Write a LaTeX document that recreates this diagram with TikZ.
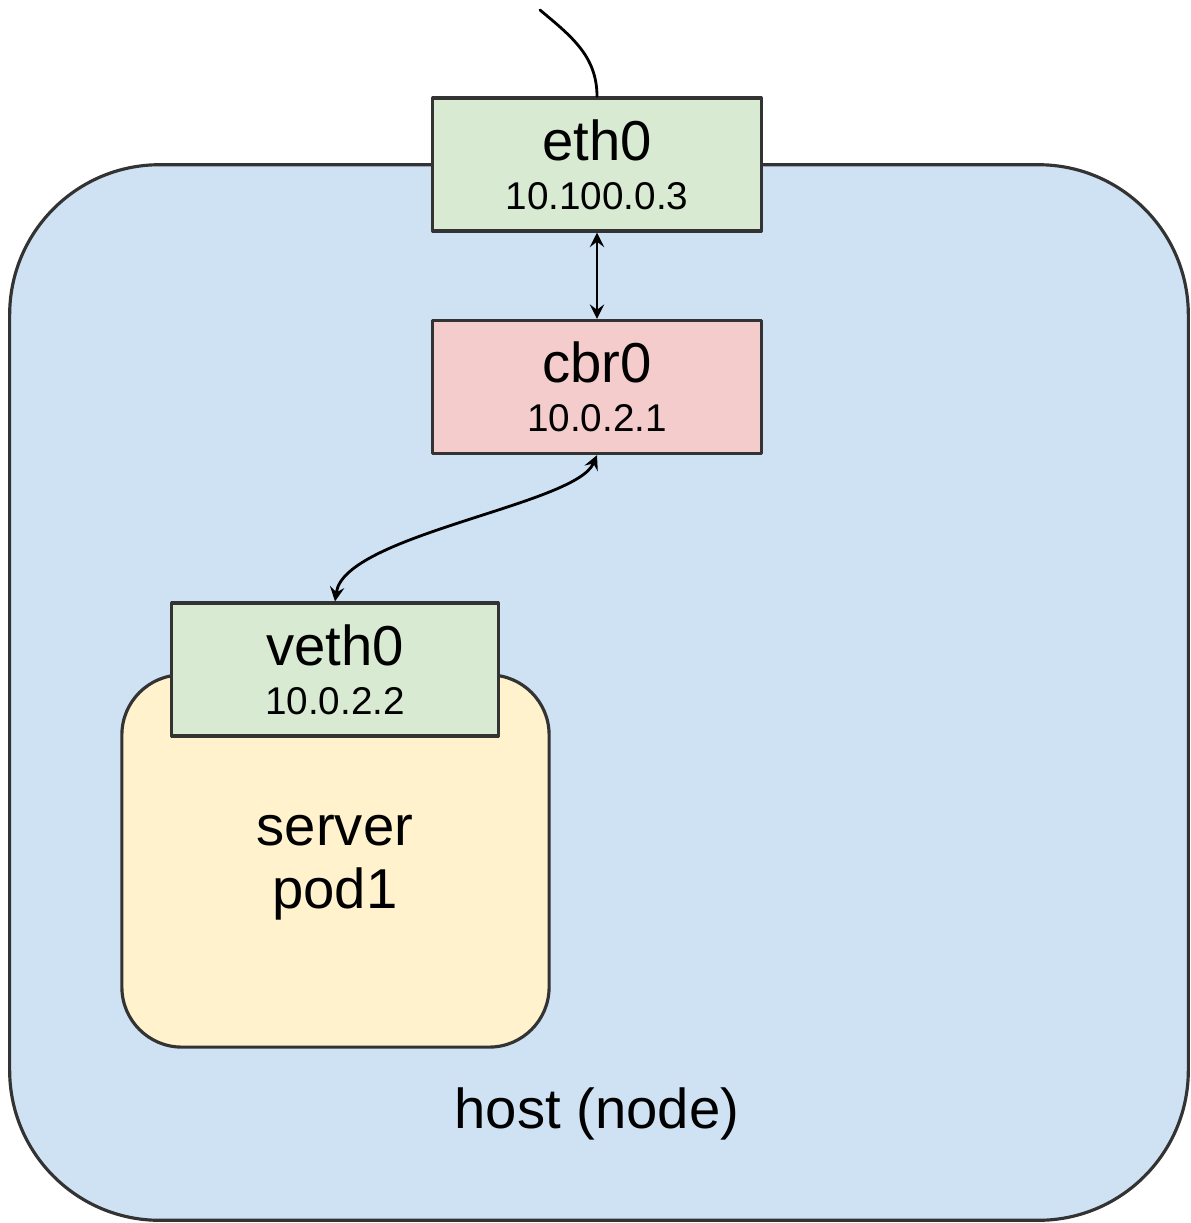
\documentclass[tikz,border=0pt]{standalone}
\usepackage{fontspec}
\setmainfont{Liberation Sans}
\definecolor{hostblue}{HTML}{CFE2F3}
\definecolor{nicgreen}{HTML}{D9EAD3}
\definecolor{brpink}{HTML}{F4CCCC}
\definecolor{podyellow}{HTML}{FFF2CC}
\definecolor{edgegray}{HTML}{333333}
\newcommand{\ipfont}{\fontsize{11}{14}\selectfont}
\begin{document}
\begin{tikzpicture}[x=0.01cm, y=-0.01cm, font=\fontsize{16}{14}\selectfont, line join=round, line cap=round, >=stealth,
 box/.style={draw=edgegray, line width=0.9pt, align=center, inner sep=0pt},
 nic/.style={box, minimum width=3.28cm, minimum height=1.33cm}]
 \useasboundingbox (0,0) rectangle (1191,1223);
 \node[box, fill=hostblue, rounded corners=1.5cm, minimum width=11.78cm, minimum height=10.55cm] (host) at (599,692.5) {};
 \node[box, fill=podyellow, rounded corners=0.6cm, minimum width=4.27cm, minimum height=3.72cm] (pod) at (335.5,861) {};
 \node[align=center, font=\fontsize{16}{18}\selectfont] (podlabel) at (335,868) {server\\pod1};
 \node[nic, fill=nicgreen] (eth0) at (597,164.5) {eth0\\{\ipfont 10.100.0.3}};
 \node[nic, fill=brpink] (cbr0) at (597,387) {cbr0\\{\ipfont 10.0.2.1}};
 \node[nic, fill=nicgreen, minimum width=3.26cm] (veth0) at (335,669.5) {veth0\\{\ipfont 10.0.2.2}};
 \node (hostlabel) at (597,1114) {host (node)};
 \coordinate (wire) at (540,10);
 \draw[line width=0.8pt] (wire) to[out=-40,in=90] (eth0.north);
 \draw[<->, line width=0.8pt] (eth0) -- (cbr0);
 \draw[<->, line width=0.8pt] (cbr0.south) .. controls (575,505) and (345,535) .. (veth0.north);
\end{tikzpicture}
\end{document}
